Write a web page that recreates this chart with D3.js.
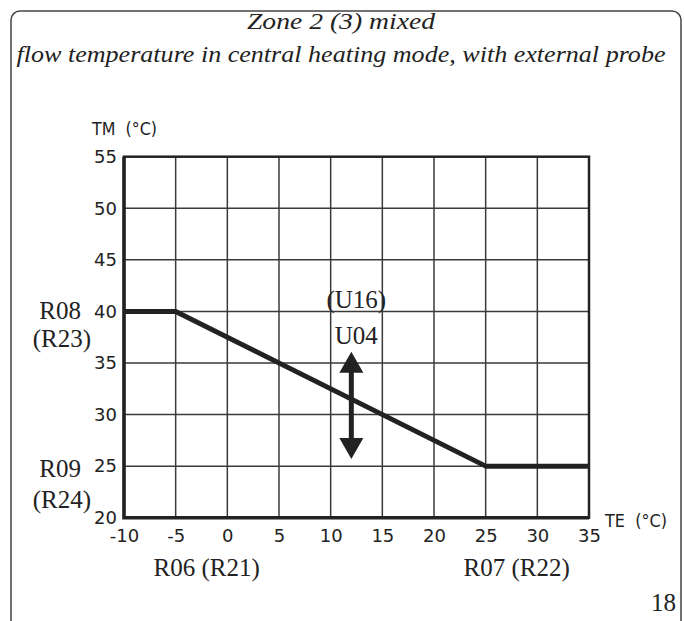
<!DOCTYPE html>
<html>
<head>
<meta charset="utf-8">
<title>Zone 2 (3) mixed</title>
<script src="https://cdn.jsdelivr.net/npm/d3@7"></script>
<style>
	body { margin: 0; background: #fff; }
	.sans { font-family: "DejaVu Sans", sans-serif; fill: #222; }
	.serif { font-family: "Liberation Serif", "Times New Roman", Times, serif; fill: #222; }
</style>
</head>
<body>
<div id="vis"></div>
<script type="text/javascript">
// chart values
var titleLines = ["Zone 2 (3) mixed", "flow temperature in central heating mode, with external probe"];
var xTicks = [-10, -5, 0, 5, 10, 15, 20, 25, 30, 35];
var yTicks = [20, 25, 30, 35, 40, 45, 50, 55];
var curveTE = [-10, -5, 25, 35];
var curveTM = [40, 40, 25, 25];
var arrowTE = 12;
var arrowTM = [25.7, 36.1];
var pageNumber = "18";

const W = 684, H = 621;
const COLOR_INK = "#222222";
const COLOR_GRID = "#3a3a3a";

var svg = d3.select("#vis").append("svg").attr("width", W).attr("height", H);

// page frame (rounded, runs off the bottom)
svg.append("rect")
	.attr("x", 11).attr("y", 11).attr("width", 670).attr("height", 630)
	.attr("rx", 9).attr("ry", 9)
	.attr("fill", "none").attr("stroke", "#444").attr("stroke-width", 1.5);

// title
svg.append("text").attr("class", "serif")
	.attr("x", 341).attr("y", 29).attr("text-anchor", "middle")
	.attr("font-size", 24).attr("font-style", "italic")
	.attr("textLength", 188).attr("lengthAdjust", "spacingAndGlyphs")
	.text(titleLines[0]);
svg.append("text").attr("class", "serif")
	.attr("x", 341).attr("y", 62).attr("text-anchor", "middle")
	.attr("font-size", 24).attr("font-style", "italic")
	.attr("textLength", 649).attr("lengthAdjust", "spacingAndGlyphs")
	.text(titleLines[1]);

var x = d3.scaleLinear().domain([-10, 35]).range([124, 589]);
var y = d3.scaleLinear().domain([20, 55]).range([517.7, 156.7]);

// grid
var grid = svg.append("g");
grid.selectAll("line.v").data(xTicks.slice(1, -1)).enter().append("line")
	.attr("class", "v")
	.attr("x1", function(d){ return x(d); }).attr("x2", function(d){ return x(d); })
	.attr("y1", y(20)).attr("y2", y(55))
	.attr("stroke", COLOR_GRID).attr("stroke-width", 1.5);
grid.selectAll("line.h").data(yTicks.slice(1, -1)).enter().append("line")
	.attr("class", "h")
	.attr("x1", x(-10)).attr("x2", x(35))
	.attr("y1", function(d){ return y(d); }).attr("y2", function(d){ return y(d); })
	.attr("stroke", COLOR_GRID).attr("stroke-width", 1.5);

// frame of the plot
svg.append("rect")
	.attr("x", x(-10)).attr("y", y(55))
	.attr("width", x(35) - x(-10)).attr("height", y(20) - y(55))
	.attr("fill", "none").attr("stroke", COLOR_INK).attr("stroke-width", 2.5);
svg.append("path")
	.attr("d", "M" + x(-10) + "," + y(55) + "V" + y(20) + "H" + x(35))
	.attr("fill", "none").attr("stroke", COLOR_INK).attr("stroke-width", 3.5);

// axes (labels only)
var xAxis = d3.axisBottom(x).tickValues(xTicks).tickSize(0).tickPadding(12)
	.tickFormat(function(d){ return String(d); });
var gx = svg.append("g").attr("transform", "translate(0," + y(20) + ")").call(xAxis);
var yAxis = d3.axisLeft(y).tickValues(yTicks).tickSize(0).tickPadding(7);
var gy = svg.append("g").attr("transform", "translate(" + x(-10) + ",0)").call(yAxis);
[gx, gy].forEach(function(g){
	g.select(".domain").remove();
	g.selectAll("text").attr("class", "sans").attr("font-size", 18).attr("fill", COLOR_INK)
		.style("font-family", "'DejaVu Sans', sans-serif");
});

// axis titles
svg.append("text").attr("class", "sans").attr("x", 92).attr("y", 135)
	.attr("font-size", 17).attr("xml:space", "preserve")
	.attr("textLength", 65).attr("lengthAdjust", "spacingAndGlyphs").text("TM  (\u00B0C)");
svg.append("text").attr("class", "sans").attr("x", 605).attr("y", 527)
	.attr("font-size", 17).attr("xml:space", "preserve")
	.attr("textLength", 62).attr("lengthAdjust", "spacingAndGlyphs").text("TE  (\u00B0C)");

// heating curve
var line = d3.line().x(function(d){ return x(d[0]); }).y(function(d){ return y(d[1]); });
svg.append("path")
	.datum(d3.zip(curveTE, curveTM))
	.attr("d", line)
	.attr("fill", "none").attr("stroke", COLOR_INK).attr("stroke-width", 5)
	.attr("stroke-linejoin", "round");

// parallel shift arrow
var ax = x(arrowTE), aTop = y(arrowTM[1]), aBot = y(arrowTM[0]);
var headH = 21, headW = 12;
svg.append("line")
	.attr("x1", ax).attr("x2", ax).attr("y1", aTop + headH - 2).attr("y2", aBot - headH + 2)
	.attr("stroke", COLOR_INK).attr("stroke-width", 5);
svg.append("path")
	.attr("d", "M" + ax + "," + aTop + "L" + (ax + headW) + "," + (aTop + headH) + "L" + (ax - headW) + "," + (aTop + headH) + "Z")
	.attr("fill", COLOR_INK);
svg.append("path")
	.attr("d", "M" + ax + "," + aBot + "L" + (ax + headW) + "," + (aBot - headH) + "L" + (ax - headW) + "," + (aBot - headH) + "Z")
	.attr("fill", COLOR_INK);

// parameter labels
function serifLabel(tx, ty, anchor, str) {
	svg.append("text").attr("class", "serif")
		.attr("x", tx).attr("y", ty).attr("text-anchor", anchor)
		.attr("font-size", 25).text(str);
}
serifLabel(81, y(40) + 8, "end", "R08");
serifLabel(91, y(40) + 36, "end", "(R23)");
serifLabel(81, y(25) + 11, "end", "R09");
serifLabel(91, y(25) + 42, "end", "(R24)");
serifLabel(ax + 5, y(40) - 3, "middle", "(U16)");
serifLabel(ax + 5, y(40) + 33, "middle", "U04");
serifLabel(x(-2), 576, "middle", "R06 (R21)");
serifLabel(x(28), 576, "middle", "R07 (R22)");
serifLabel(676, 611, "end", pageNumber);
</script>
</body>
</html>
